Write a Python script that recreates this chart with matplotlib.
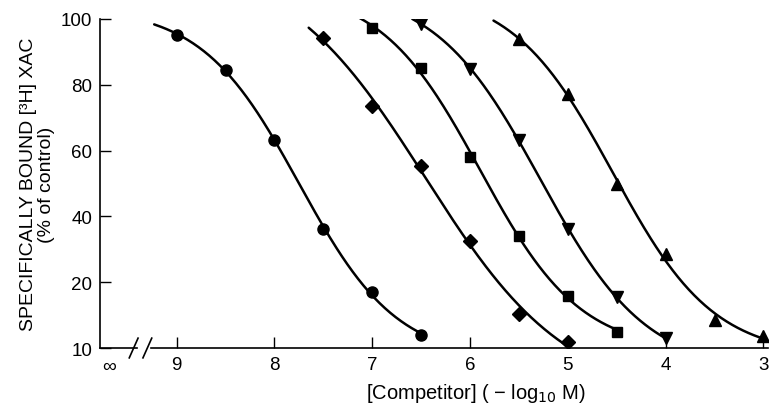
"""
Competition binding curves: specifically bound [3H]XAC vs competitor concentration.
"""

import numpy as np
import matplotlib
matplotlib.use("Agg")
import matplotlib.pyplot as plt

plt.rcParams["font.family"] = ["Liberation Sans", "DejaVu Sans"]

# ------------------------
# Data
# ------------------------
circle_x = [9.0, 8.5, 8.0, 7.5, 7.0, 6.5]
circle_y = [95.2, 84.5, 63.2, 36.2, 16.9, 4.0]

diamond_x = [7.5, 7.0, 6.5, 6.0, 5.5, 5.0]
diamond_y = [94.1, 73.6, 55.2, 32.6, 10.3, 1.7]

square_x = [7.0, 6.5, 6.0, 5.5, 5.0, 4.5]
square_y = [97.2, 85.0, 58.1, 34.0, 15.9, 5.0]

tri_down_x = [6.5, 6.0, 5.5, 5.0, 4.5, 4.0]
tri_down_y = [98.5, 84.8, 63.2, 36.2, 15.4, 2.9]

tri_up_x = [5.5, 5.0, 4.5, 4.0, 3.5, 3.0]
tri_up_y = [93.9, 77.2, 49.8, 28.6, 8.5, 3.7]

# where each fitted curve begins (left end, -log10 M)
curve_start = [9.23, 7.65, 7.13, 6.59, 5.76]

x_ticks = [9, 8, 7, 6, 5, 4, 3]
y_ticks = [0, 20, 40, 60, 80, 100]
y_tick_labels = ["10", "20", "40", "60", "80", "100"]  # bottom label printed as "10" in the original


# ------------------------
# 4-parameter logistic fit (Levenberg-Marquardt, numpy only)
# ------------------------
def logistic4(x, p):
    top, bottom, c, n = p
    return bottom + (top - bottom) / (1.0 + 10 ** (n * (c - x)))


def fit_4pl(x, y, iters=300):
    x = np.asarray(x, dtype=float)
    y = np.asarray(y, dtype=float)
    c0 = np.interp(50, y[::-1], x[::-1])
    p = np.array([100.0, 0.0, c0, 1.0])
    lam = 1e-2

    def sse(q):
        return np.sum((y - logistic4(x, q)) ** 2)

    for _ in range(iters):
        r = y - logistic4(x, p)
        J = np.zeros((len(x), 4))
        for k in range(4):
            dq = np.zeros(4)
            dq[k] = 1e-6 * max(1.0, abs(p[k]))
            J[:, k] = (logistic4(x, p + dq) - logistic4(x, p)) / dq[k]
        A = J.T @ J
        A = A + lam * np.diag(np.diag(A))
        step = np.linalg.solve(A, J.T @ r)
        if sse(p + step) < sse(p):
            p = p + step
            lam *= 0.3
        else:
            lam *= 10
    return p


# ------------------------
# Plot
# ------------------------
fig = plt.figure(figsize=(7.73, 4.14), dpi=100)
ax = fig.add_axes([0.1299, 0.157, 0.864, 0.795])

series = [
    (circle_x, circle_y, "o", 8),
    (diamond_x, diamond_y, "D", 7),
    (square_x, square_y, "s", 7.5),
    (tri_down_x, tri_down_y, "v", 8),
    (tri_up_x, tri_up_y, "^", 8),
]

for (xs, ys, mk, ms), x0 in zip(series, curve_start):
    p = fit_4pl(xs, ys)
    xc = np.linspace(x0, min(xs), 200)
    ax.plot(xc, logistic4(xc, p), color="black", lw=1.8, solid_capstyle="round")
    ax.plot(xs, ys, linestyle="none", marker=mk, ms=ms,
            color="black", markeredgecolor="black")

ax.set_xlim(9.78, 2.95)
ax.set_ylim(0, 100)

ax.set_xticks(x_ticks)
ax.set_xticklabels([str(t) for t in x_ticks])
ax.set_yticks(y_ticks)
ax.set_yticklabels(y_tick_labels)
ax.tick_params(direction="in", length=8, width=1, labelsize=13.5, pad=6)

for s in ["top", "right", "bottom"]:
    ax.spines[s].set_visible(False)
ax.spines["left"].set_linewidth(1.2)

# broken x axis: line from origin to break, then break to end
xtr = ax.get_xaxis_transform()
ax.plot([9.78, 9.41], [0, 0], transform=xtr, color="black", lw=1.2, clip_on=False)
ax.plot([9.26, 2.95], [0, 0], transform=xtr, color="black", lw=1.2, clip_on=False)
for xb in [9.44, 9.30]:
    ax.plot([xb + 0.045, xb - 0.045], [-0.03, 0.03], transform=xtr,
            color="black", lw=1.2, clip_on=False)

ax.text(9.69, -0.03, "\u221e", transform=xtr, ha="center", va="top", fontsize=14)

ax.set_xlabel("[Competitor] ( \u2212 log$_{10}$ M)", fontsize=14.5)
ax.xaxis.set_label_coords(0.562, -0.1)
ax.set_ylabel("SPECIFICALLY BOUND [\u00b3H] XAC\n(% of control)",
              fontsize=14, multialignment="center", linespacing=1.1)
ax.yaxis.set_label_coords(-0.068, 0.5)

fig.savefig("out.png", dpi=100)
